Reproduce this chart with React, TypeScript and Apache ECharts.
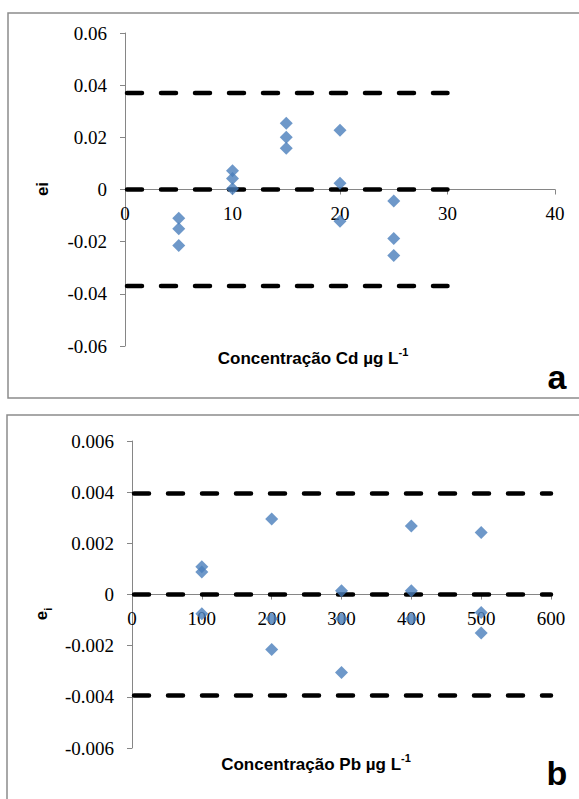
import React, { useEffect, useRef } from "react";
import * as echarts from "echarts";

// Panel a (Cd)
const cdX = [5, 5, 5, 10, 10, 10, 15, 15, 15, 20, 20, 20, 25, 25, 25];
const cdE = [-0.011, -0.015, -0.0215, 0.0072, 0.0042, 0.0003, 0.0254, 0.02, 0.0158, 0.0227, 0.0024, -0.0122, -0.0044, -0.0188, -0.0253];
const cdLimit = 0.037;
const cdLimitX = [0, 30];
const cdXTicks = { min: 0, max: 40, interval: 10 };
const cdYTicks = { min: -0.06, max: 0.06, interval: 0.02 };

// Panel b (Pb)
const pbX = [100, 100, 100, 200, 200, 200, 300, 300, 300, 400, 400, 400, 500, 500, 500];
const pbE = [0.00108, 0.00088, -0.00075, 0.00295, -0.00095, -0.00215, 0.00015, -0.00095, -0.00305, 0.00268, 0.00015, -0.00095, 0.00242, -0.0007, -0.0015];
const pbLimit = 0.00395;
const pbLimitX = [0, 600];
const pbXTicks = { min: 0, max: 600, interval: 100 };
const pbYTicks = { min: -0.006, max: 0.006, interval: 0.002 };

const BLUE = "#4a7ebb";
const AXIS = "#868686";
const SERIF = "Liberation Serif";
const SANS = "Liberation Sans";

const GRID_A = { left: 125, width: 430, top: 33, height: 313 };
const GRID_B = { left: 132, width: 419, top: 441, height: 307 };

function limitSeries(xs: number[], v: number, xi: number, yi: number) {
  return [v, 0, -v].map((lv) => ({
    type: "line",
    xAxisIndex: xi,
    yAxisIndex: yi,
    data: xs.map((x) => [x, lv]),
    symbol: "none",
    silent: true,
    z: 3,
    lineStyle: { color: "#000", width: 4.5, type: [15, 19], cap: "round", dashOffset: -2.2 },
  }));
}

export default function App() {
  const ref = useRef<HTMLDivElement>(null);
  useEffect(() => {
    if (!ref.current) return;
    const chart = echarts.init(ref.current, null, { renderer: "svg" });
    const label = { color: "#000", fontFamily: SERIF, fontSize: 19 };
    const axisCommon = {
      axisLine: { onZero: false, lineStyle: { color: AXIS, width: 1 } },
      axisTick: { show: true, length: 5, lineStyle: { color: AXIS } },
      splitLine: { show: false },
    };
    chart.setOption({
      animation: false,
      backgroundColor: "#fff",
      grid: [GRID_A, GRID_B],
      xAxis: [
        { gridIndex: 0, type: "value", ...cdXTicks, ...axisCommon, offset: -GRID_A.height / 2, axisLabel: { ...label, margin: 14 } },
        { gridIndex: 1, type: "value", ...pbXTicks, ...axisCommon, offset: -GRID_B.height / 2, axisLabel: { ...label, margin: 14 } },
      ],
      yAxis: [
        { gridIndex: 0, type: "value", ...cdYTicks, ...axisCommon, axisLabel: { ...label, margin: 18 } },
        { gridIndex: 1, type: "value", ...pbYTicks, ...axisCommon, axisLabel: { ...label, margin: 18 } },
      ],
      series: [
        ...limitSeries(cdLimitX, cdLimit, 0, 0),
        ...limitSeries(pbLimitX, pbLimit, 1, 1),
        {
          type: "scatter",
          xAxisIndex: 0,
          yAxisIndex: 0,
          symbol: "diamond",
          symbolSize: 13,
          itemStyle: { color: BLUE },
          z: 4,
          data: cdX.map((x, i) => [x, cdE[i]]),
        },
        {
          type: "scatter",
          xAxisIndex: 1,
          yAxisIndex: 1,
          symbol: "diamond",
          symbolSize: 13,
          itemStyle: { color: BLUE },
          z: 4,
          data: pbX.map((x, i) => [x, pbE[i]]),
        },
      ],
      graphic: [
        { type: "rect", shape: { x: 8, y: 13, width: 600, height: 385 }, style: { fill: "none", stroke: "#8c8c8c", lineWidth: 1.5 }, z: -1 },
        { type: "rect", shape: { x: 7, y: 415, width: 600, height: 400 }, style: { fill: "none", stroke: "#8c8c8c", lineWidth: 1.5 }, z: -1 },
        {
          type: "text",
          x: 42,
          y: 189,
          rotation: Math.PI / 2,
          style: { text: "ei", font: `bold 17px ${SANS}`, fill: "#000", align: "center", verticalAlign: "middle" },
        },
        {
          type: "text",
          x: 41,
          y: 614,
          rotation: Math.PI / 2,
          style: {
            text: "{e|e}{s|i}",
            align: "center",
            verticalAlign: "middle",
            rich: {
              e: { fontFamily: SANS, fontWeight: "bold", fontSize: 17, lineHeight: 24, verticalAlign: "middle", fill: "#000" },
              s: { fontFamily: SANS, fontWeight: "bold", fontSize: 11, lineHeight: 11, verticalAlign: "bottom", fill: "#000" },
            },
          },
        },
        {
          type: "text",
          x: 313,
          y: 358,
          style: {
            text: "{m|Concentração Cd µg L}{s|-1}",
            align: "center",
            verticalAlign: "middle",
            rich: {
              m: { fontFamily: SANS, fontWeight: "bold", fontSize: 17, lineHeight: 24, verticalAlign: "middle", fill: "#000" },
              s: { fontFamily: SANS, fontWeight: "bold", fontSize: 11, lineHeight: 11, verticalAlign: "top", fill: "#000" },
            },
          },
        },
        {
          type: "text",
          x: 316,
          y: 764,
          style: {
            text: "{m|Concentração Pb µg L}{s|-1}",
            align: "center",
            verticalAlign: "middle",
            rich: {
              m: { fontFamily: SANS, fontWeight: "bold", fontSize: 17, lineHeight: 24, verticalAlign: "middle", fill: "#000" },
              s: { fontFamily: SANS, fontWeight: "bold", fontSize: 11, lineHeight: 11, verticalAlign: "top", fill: "#000" },
            },
          },
        },
        { type: "text", x: 557, y: 377, style: { text: "a", font: `bold 34px ${SANS}`, fill: "#000", align: "center", verticalAlign: "middle" } },
        { type: "text", x: 557, y: 773, style: { text: "b", font: `bold 34px ${SANS}`, fill: "#000", align: "center", verticalAlign: "middle" } },
      ],
    });
    return () => chart.dispose();
  }, []);
  return <div ref={ref} style={{ position: "fixed", left: 0, top: 0, width: 579, height: 799 }} />;
}
